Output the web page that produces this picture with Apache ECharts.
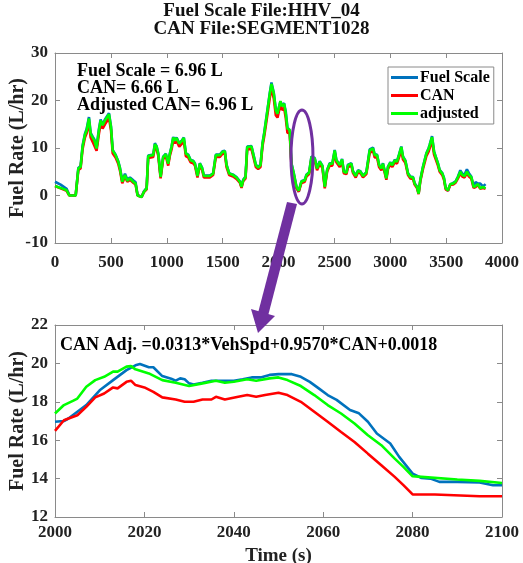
<!DOCTYPE html>
<html>
<head>
<meta charset="utf-8">
<script src="https://cdn.jsdelivr.net/npm/echarts@6/dist/echarts.min.js"></script>
<style>
  html, body { margin: 0; padding: 0; background: #fff; }
  #chart { width: 523px; height: 563px; }
</style>
</head>
<body>
<div id="chart"></div>
<script>
// Whole trip (s) and fuel rate (L/hr) for the three signals
const tripTime = [0,50,104,128,185,209,229,247,268,283,304,319,337,352,372,393,408,426,447,462,483,501,516,542,566,581,602,626,647,671,700,721,739,775,796,820,834,879,894,909,924,945,968,992,1013,1028,1043,1058,1073,1088,1112,1132,1153,1171,1192,1213,1237,1252,1275,1296,1317,1332,1386,1415,1439,1475,1499,1520,1535,1559,1594,1624,1654,1669,1684,1705,1720,1758,1773,1797,1818,1839,1857,1872,1893,1922,1937,1958,1976,1991,2000,2017,2030,2050,2065,2080,2100,2116,2137,2161,2181,2205,2235,2250,2274,2295,2324,2345,2369,2393,2414,2435,2458,2482,2503,2518,2533,2548,2569,2584,2608,2622,2652,2667,2691,2712,2733,2756,2786,2816,2846,2861,2882,2900,2920,2935,2965,2980,3001,3019,3040,3060,3078,3099,3114,3135,3159,3180,3204,3218,3239,3254,3269,3293,3323,3344,3353,3374,3392,3407,3427,3442,3466,3481,3496,3516,3537,3561,3585,3606,3627,3645,3665,3686,3704,3725,3746,3764,3785,3806,3829,3853];
const tripFuelScale = [2.9,2.3,1.4,0.1,0,5.8,6.2,10.5,13.0,14.0,16.5,13.2,12.4,11.8,10.1,14.0,16.0,15.0,16.0,15.6,17.3,14.6,9.6,8.6,7.2,5.9,3.1,4.6,3.4,3.8,3.2,2.8,0.1,-0.3,0.9,1.6,8.4,8.6,11.0,10.4,8.9,4.0,8.2,8.8,6.8,8.9,10.3,12.3,11.7,12.2,11.0,11.5,12.2,8.9,8.6,7.5,7.3,6.8,4.2,6.8,5.8,4.2,4.2,4.7,8.6,8.6,9.3,9.4,6.5,4.7,4.4,3.9,3.0,1.9,3.3,4.0,10.3,10.4,10.3,6.5,6.0,6.5,11.0,13.2,16.7,21.6,23.8,21.6,18.1,17.4,17.0,19.8,19.0,19.4,17.7,14.3,13.7,6.8,4.7,1.8,0.8,3.0,3.3,4.4,4.9,8.2,7.9,5.8,7.2,6.3,1.9,5.4,6.8,6.8,9.6,7.5,7.2,6.5,7.7,5.1,4.9,6.5,6.8,5.1,4.2,5.3,5.1,4.2,4.9,9.7,10.1,8.6,8.6,6.5,5.8,6.8,3.7,6.1,7.0,6.5,7.5,7.2,8.6,10.3,8.2,7.4,4.7,4.0,3.9,2.6,1.9,0.5,3.3,6.1,8.9,10.0,10.7,12.5,9.3,8.2,6.8,5.4,4.7,3.7,1.6,1.0,2.3,2.6,3.0,4.0,5.3,4.6,4.4,5.5,4.7,4.0,2.0,2.8,2.5,2.5,1.9,2.4];
const tripCAN = [2.0,1.5,1.0,0,0,5.4,5.7,9.8,12.2,13.1,15.4,12.2,11.3,10.9,9.4,13.0,15.0,14.1,15.0,14.8,16.3,13.8,8.9,8.0,6.7,5.3,2.6,4.0,2.9,3.3,2.7,2.3,0,-0.3,0.7,1.3,7.9,8.1,10.3,9.8,8.4,3.6,7.7,8.3,6.3,8.4,9.7,11.6,11.0,11.5,10.3,10.8,11.5,8.3,8.0,7.0,6.8,6.3,3.8,6.3,5.4,3.8,3.8,4.3,8.1,8.1,8.8,8.9,6.0,4.3,4.0,3.5,2.7,1.6,3.0,3.6,9.7,9.8,9.7,6.0,5.6,6.0,10.4,12.4,15.8,20.5,22.6,20.4,16.9,16.4,16.5,19.1,18.0,18.5,16.3,13.2,13.1,6.2,4.2,1.5,0.8,2.6,2.9,4.0,4.5,7.7,7.4,5.3,6.7,5.8,1.5,5.0,6.3,6.3,9.0,7.0,6.7,6.0,7.2,4.7,4.5,6.0,6.3,4.7,3.8,4.9,4.7,3.8,4.5,9.0,9.4,8.0,8.0,6.0,5.3,6.3,3.3,5.6,6.5,6.0,7.0,6.7,8.0,9.6,7.6,6.9,4.3,3.6,3.5,2.3,1.6,0.3,3.0,5.6,8.3,9.3,10.0,11.6,8.6,7.6,6.3,5.0,4.3,3.3,1.3,1.0,2.2,2.3,2.7,3.6,4.7,4.0,3.8,4.7,4.0,3.6,1.6,1.8,2.2,1.4,1.6,1.4];
const tripAdjusted = [2.0,1.6,1.1,0,0,5.7,6.0,10.3,12.8,13.7,16.2,13.0,12.2,11.6,9.9,13.7,15.8,14.8,15.8,15.5,17.1,14.4,9.5,8.5,7.1,5.7,2.9,4.3,3.1,3.6,2.9,2.5,0,-0.3,0.8,1.5,8.3,8.5,10.8,10.3,8.8,3.9,8.1,8.7,6.7,8.8,10.2,12.2,11.6,12.1,10.9,11.4,12.1,8.8,8.5,7.4,7.2,6.7,4.1,6.7,5.7,4.1,4.1,4.6,8.5,8.5,9.2,9.3,6.4,4.6,4.3,3.8,2.9,1.8,3.2,3.9,10.2,10.3,10.2,6.4,5.9,6.4,10.9,13.0,16.5,21.4,23.5,21.4,17.9,17.2,17.4,19.9,18.8,19.3,17.2,14.1,13.8,6.7,4.6,1.8,1.0,2.9,3.2,4.3,4.8,8.1,7.8,5.7,7.1,6.2,1.8,5.3,6.7,6.7,9.5,7.4,7.1,6.4,7.6,5.0,4.8,6.4,6.7,5.0,4.1,5.2,5.0,4.1,4.8,9.5,9.9,8.5,8.5,6.4,5.7,6.7,3.6,6.0,6.9,6.4,7.4,7.1,8.5,10.2,8.1,7.3,4.6,3.9,3.8,2.5,1.8,0.4,3.2,6.0,8.8,9.9,10.6,12.3,9.2,8.1,6.7,5.3,4.6,3.6,1.5,1.1,2.4,2.5,2.9,3.9,5.0,4.3,4.1,5.0,4.3,3.9,1.8,2.0,2.4,1.5,1.8,1.5];

// Close-up of 2000-2100 s
const zoomFuelTime = [2000,2002,2003,2005,2007,2010,2013,2016,2018,2019,2021,2022,2024,2026,2027,2028,2029,2030,2031,2033,2035,2038,2040,2042,2044,2046,2048,2050,2053,2055,2057,2059,2061,2063,2066,2068,2070,2072,2075,2077,2080,2082,2084,2086,2090,2095,2098,2100];
const zoomFuelScale = [16.96,17.0,17.13,17.48,17.83,18.6,19.13,19.65,19.9,19.97,19.8,19.8,19.34,19.2,19.1,19.22,19.17,18.96,18.9,18.99,19.1,19.1,19.1,19.17,19.27,19.27,19.4,19.44,19.44,19.3,19.04,18.7,18.35,18.1,17.57,17.4,16.96,16.35,15.83,15.13,14.26,14.03,14.0,13.83,13.83,13.8,13.65,13.65];
const zoomCANTime = [2000,2002,2005,2007,2009,2011,2013,2014,2016,2017,2018,2020,2022,2024,2027,2029,2031,2033,2035,2036,2038,2041,2043,2045,2047,2050,2052,2055,2058,2061,2064,2067,2070,2073,2076,2078,2080,2085,2095,2100];
const zoomCAN = [16.49,17.04,17.3,17.74,18.23,18.43,18.75,18.7,19.04,19.1,18.87,18.75,18.52,18.23,18.12,18.0,18.0,18.12,18.12,18.26,18.12,18.26,18.35,18.26,18.35,18.47,18.35,18.0,17.48,16.96,16.43,15.91,15.3,14.7,14.09,13.65,13.18,13.17,13.08,13.08];
const zoomAdjTime = [2000,2002,2004,2005,2007,2009,2011,2013,2014,2016,2017,2018,2021,2024,2027,2030,2033,2036,2038,2040,2043,2045,2048,2050,2052,2055,2058,2061,2064,2067,2070,2073,2076,2078,2080,2082,2090,2095,2100];
const zoomAdjusted = [17.39,17.83,18.05,18.17,18.78,19.13,19.3,19.57,19.57,19.83,19.86,19.69,19.48,19.13,18.99,18.82,18.96,19.1,18.99,19.04,19.17,19.1,19.22,19.27,19.13,18.82,18.35,17.83,17.39,16.87,16.26,15.74,15.04,14.6,14.12,14.09,13.95,13.88,13.77];

const seriesNames = ['Fuel Scale', 'CAN', 'adjusted'];
const titleLines = ['Fuel Scale File:HHV_04', 'CAN File:SEGMENT1028'];
const totals = ['Fuel Scale = 6.96 L', 'CAN= 6.66 L', 'Adjusted CAN= 6.96 L'];
const fitText = 'CAN Adj. =0.0313*VehSpd+0.9570*CAN+0.0018';

const FONT = '"Liberation Serif", "Times New Roman", serif';
const colors = ['#0072BD', '#FF0000', '#00FF00'];
const BOX = '#8a8a8a';
const INK = '#222222';
const PURPLE = '#7030A0';

const pairs = (xs, ys) => xs.map((x, i) => [x, ys[i]]);

function axisPair(gridIndex, min, max, interval, isX, name) {
  const common = {
    type: 'value', gridIndex, min, max, interval,
    splitLine: { show: false },
    axisLine: { show: true, onZero: false, lineStyle: { color: BOX, width: 1 } },
    axisTick: { show: true, inside: true, length: 5, lineStyle: { color: BOX } }
  };
  const main = Object.assign({}, common, {
    position: isX ? 'bottom' : 'left',
    axisLabel: {
      show: true, color: INK, fontFamily: FONT, fontWeight: 'bold', fontSize: 17,
      margin: isX ? (gridIndex === 0 ? 11 : 7) : 7,
      hideOverlap: false,
      formatter: (v) => String(v)
    }
  });
  if (name) {
    Object.assign(main, {
      name, nameLocation: 'middle',
      nameGap: isX ? 30 : 27,
      nameMoveOverlap: false,
      nameTextStyle: { color: INK, fontFamily: FONT, fontWeight: 'bold', fontSize: isX ? 19 : 20 }
    });
  }
  const mirror = Object.assign({}, common, {
    position: isX ? 'top' : 'right',
    axisLabel: { show: false }
  });
  return [main, mirror];
}

const [x0, x0t] = axisPair(0, 0, 4000, 500, true);
const [y0, y0r] = axisPair(0, -10, 30, 10, false, 'Fuel Rate (L/hr)');
const [x1, x1t] = axisPair(1, 2000, 2100, 20, true, 'Time (s)');
const [y1, y1r] = axisPair(1, 12, 22, 2, false, 'Fuel Rate (L/hr)');

function line(name, data, idx, axis) {
  return {
    name, type: 'line', data,
    xAxisIndex: axis, yAxisIndex: axis,
    showSymbol: false, symbol: 'none',
    lineStyle: { color: colors[idx], width: 2.6 },
    itemStyle: { color: colors[idx] },
    z: 2 + idx
  };
}

const chart = echarts.init(document.getElementById('chart'), null, { renderer: 'canvas' });

const textStyleBold = (size) => ({ fontFamily: FONT, fontWeight: 'bold', fontSize: size, fill: '#000' });
const titleStyle = { color: '#111', fontFamily: FONT, fontWeight: 'bold', fontSize: 19 };

chart.setOption({
  animation: false,
  backgroundColor: '#fff',
  title: [
    { text: titleLines[0], left: 'center', top: 2, padding: 0, textStyle: titleStyle },
    { text: titleLines[1], left: 'center', top: 20, padding: 0, textStyle: titleStyle }
  ],
  grid: [
    { left: 55, top: 53, width: 447, height: 190, containLabel: false, outerBoundsMode: 'none' },
    { left: 55, top: 325, width: 447, height: 192, containLabel: false, outerBoundsMode: 'none' }
  ],
  xAxis: [x0, x1, x0t, x1t],
  yAxis: [y0, y1, y0r, y1r],
  legend: {
    data: seriesNames,
    orient: 'vertical',
    left: 388, top: 67,
    backgroundColor: '#fff',
    borderColor: BOX, borderWidth: 1,
    padding: [2, 4, 2, 3],
    itemGap: 1,
    itemWidth: 27, itemHeight: 3,
    icon: 'rect',
    textStyle: { color: '#000', fontFamily: FONT, fontWeight: 'bold', fontSize: 16, lineHeight: 17, padding: [0, 0, 0, -3] }
  },
  series: [
    line(seriesNames[0], pairs(tripTime, tripFuelScale), 0, 0),
    line(seriesNames[1], pairs(tripTime, tripCAN), 1, 0),
    line(seriesNames[2], pairs(tripTime, tripAdjusted), 2, 0),
    line(seriesNames[0], pairs(zoomFuelTime, zoomFuelScale), 0, 1),
    line(seriesNames[1], pairs(zoomCANTime, zoomCAN), 1, 1),
    line(seriesNames[2], pairs(zoomAdjTime, zoomAdjusted), 2, 1)
  ]
});

// Highlight ring around the steep drop after 2100 s, and the pointer to the close-up
const ringCenter = chart.convertToPixel({ xAxisIndex: 0, yAxisIndex: 0 }, [2210, 8.1]);

chart.setOption({
  graphic: [
    {
      type: 'ellipse',
      shape: { cx: ringCenter[0], cy: ringCenter[1], rx: 11, ry: 47 },
      style: { fill: 'none', stroke: PURPLE, lineWidth: 3 },
      z: 20
    },
    {
      type: 'polygon',
      shape: { points: [[287, 202], [297, 204], [268, 316], [258, 313]] },
      style: { fill: PURPLE },
      z: 20
    },
    {
      type: 'polygon',
      shape: { points: [[251, 309], [275, 316], [258, 333]] },
      style: { fill: PURPLE },
      z: 20
    },
    { type: 'text', left: 77, top: 62, style: Object.assign({ text: totals[0] }, textStyleBold(18)), z: 20 },
    { type: 'text', left: 77, top: 79, style: Object.assign({ text: totals[1] }, textStyleBold(18)), z: 20 },
    { type: 'text', left: 77, top: 96, style: Object.assign({ text: totals[2] }, textStyleBold(18)), z: 20 },
    { type: 'text', left: 60, top: 336, style: Object.assign({ text: fitText }, textStyleBold(18)), z: 20 }
  ]
});
</script>
</body>
</html>
